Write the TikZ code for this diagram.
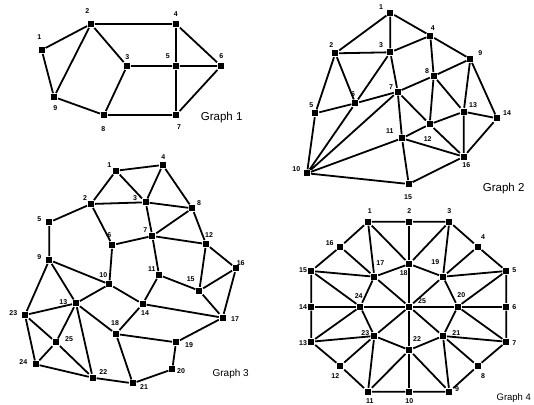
\documentclass[tikz,border=0pt]{standalone}
\usepackage{fontspec}
\setmainfont{Liberation Sans}
\begin{document}
\begin{tikzpicture}[x=1pt,y=-1pt,line width=1.8pt,
    vtx/.style={fill,rectangle,inner sep=0pt,minimum size=6pt},
    lbl/.style={font=\fontsize{7}{8}\selectfont\bfseries,inner sep=0pt},
    ttl/.style={anchor=west,inner sep=0pt}]
    \useasboundingbox (0,0) rectangle (534,404);
    \node[vtx] (a1) at (41.7,50) {};    \path (39.3,36.7) node[lbl] (a1l) {1};
    \node[vtx] (a2) at (91,24) {};      \path (87.3,11) node[lbl] (a2l) {2};
    \node[vtx] (a3) at (127,66) {};     \path (127.3,56.7) node[lbl] (a3l) {3};
    \node[vtx] (a4) at (176,24) {};     \path (175.7,14) node[lbl] (a4l) {4};
    \node[vtx] (a5) at (176,66) {};     \path (167.7,55.7) node[lbl] (a5l) {5};
    \node[vtx] (a6) at (221,66) {};     \path (221.3,55.7) node[lbl] (a6l) {6};
    \node[vtx] (a7) at (176,115) {};    \path (179,127.3) node[lbl] (a7l) {7};
    \node[vtx] (a8) at (104,115) {};    \path (103.3,129.3) node[lbl] (a8l) {8};
    \node[vtx] (a9) at (54,97) {};      \path (55.3,108.3) node[lbl] (a9l) {9};
    \draw (a9) -- (a1) -- (a2) -- (a4) -- (a6) -- (a7) -- (a8) -- (a9) -- (a2);
    \draw (a2) -- (a3) -- (a5) -- (a6);
    \draw (a4) -- (a5) -- (a7);
    \draw (a3) -- (a8);
    \path (200,117.3) node[ttl,font=\fontsize{11.5}{12}\selectfont] (g1) {Graph 1};

    \node[vtx] (b1) at (390.3,12.7) {};   \path (381,7.3) node[lbl] (b1l) {1};
    \node[vtx] (b2) at (335.3,53.3) {};   \path (331.3,45) node[lbl] (b2l) {2};
    \node[vtx] (b3) at (390.3,52.3) {};   \path (381,45) node[lbl] (b3l) {3};
    \node[vtx] (b4) at (430.3,35.7) {};   \path (432.7,27.7) node[lbl] (b4l) {4};
    \node[vtx] (b5) at (315.3,113.3) {};  \path (311.3,105) node[lbl] (b5l) {5};
    \node[vtx] (b6) at (355.3,103.3) {};  \path (353,94) node[lbl] (b6l) {6};
    \node[vtx] (b7) at (397.7,91.7) {};   \path (391,87.3) node[lbl] (b7l) {7};
    \node[vtx] (b8) at (433.7,76) {};     \path (427,71) node[lbl] (b8l) {8};
    \node[vtx] (b9) at (470.3,59) {};     \path (480.3,52.7) node[lbl] (b9l) {9};
    \node[vtx] (b10) at (307,173.3) {};   \path (296.3,169.3) node[lbl] (b10l) {10};
    \node[vtx] (b11) at (402,138.3) {};   \path (389.7,131) node[lbl] (b11l) {11};
    \node[vtx] (b12) at (429.7,124.3) {}; \path (427.7,139.3) node[lbl] (b12l) {12};
    \node[vtx] (b13) at (463.7,111.7) {}; \path (473,105) node[lbl] (b13l) {13};
    \node[vtx] (b14) at (497,118.3) {};   \path (507,113.3) node[lbl] (b14l) {14};
    \node[vtx] (b15) at (408.7,184) {};   \path (408,197.3) node[lbl] (b15l) {15};
    \node[vtx] (b16) at (463.7,156.7) {}; \path (466.3,164.7) node[lbl] (b16l) {16};
    \draw (b1) -- (b2) -- (b5) -- (b10) -- (b15) -- (b16) -- (b14) -- (b9) -- (b4) -- (b1) -- (b3) -- (b2) -- (b6) -- (b3) -- (b4);
    \draw (b5) -- (b6) -- (b7) -- (b8) -- (b9) -- (b13) -- (b14);
    \draw (b3) -- (b7) -- (b11) -- (b15);
    \draw (b4) -- (b8) -- (b12) -- (b16) -- (b13) -- (b12) -- (b11) -- (b16);
    \draw (b8) -- (b13);
    \draw (b7) -- (b12);
    \draw (b6) -- (b10) -- (b7);
    \draw (b10) -- (b11);
    \path (482,188.3) node[ttl,font=\fontsize{11.5}{12}\selectfont] (g2) {Graph 2};

    \node[vtx] (c1) at (116,170.7) {};    \path (109.3,165) node[lbl] (c1l) {1};
    \node[vtx] (c2) at (91,204) {};       \path (85,197.7) node[lbl] (c2l) {2};
    \node[vtx] (c3) at (145.7,202.3) {};  \path (135,197.7) node[lbl] (c3l) {3};
    \node[vtx] (c4) at (162.7,165) {};    \path (163.3,156.7) node[lbl] (c4l) {4};
    \node[vtx] (c5) at (49.3,222.3) {};   \path (39.3,219.3) node[lbl] (c5l) {5};
    \node[vtx] (c6) at (112.3,245) {};    \path (109.3,235) node[lbl] (c6l) {6};
    \node[vtx] (c7) at (152.3,236) {};    \path (145.3,230) node[lbl] (c7l) {7};
    \node[vtx] (c8) at (192.3,208.3) {};  \path (199,202.7) node[lbl] (c8l) {8};
    \node[vtx] (c9) at (49.3,260) {};     \path (39.3,257.3) node[lbl] (c9l) {9};
    \node[vtx] (c10) at (109.3,284.3) {}; \path (103.3,275) node[lbl] (c10l) {10};
    \node[vtx] (c11) at (159,275) {};     \path (151.7,269) node[lbl] (c11l) {11};
    \node[vtx] (c12) at (206,244) {};     \path (209,235) node[lbl] (c12l) {12};
    \node[vtx] (c13) at (76,303.3) {};    \path (63.3,301.7) node[lbl] (c13l) {13};
    \node[vtx] (c14) at (142.7,304) {};   \path (145,312.7) node[lbl] (c14l) {14};
    \node[vtx] (c15) at (199.3,290.7) {}; \path (190.7,279.3) node[lbl] (c15l) {15};
    \node[vtx] (c16) at (236,268.3) {};   \path (240.7,263.3) node[lbl] (c16l) {16};
    \node[vtx] (c17) at (222.7,317.7) {}; \path (235,319.3) node[lbl] (c17l) {17};
    \node[vtx] (c18) at (116,334) {};     \path (115,323.3) node[lbl] (c18l) {18};
    \node[vtx] (c19) at (176,342.3) {};   \path (189,345.3) node[lbl] (c19l) {19};
    \node[vtx] (c20) at (172.3,369.3) {}; \path (181,371) node[lbl] (c20l) {20};
    \node[vtx] (c21) at (132.7,383.3) {}; \path (144,387.3) node[lbl] (c21l) {21};
    \node[vtx] (c22) at (92.7,377.7) {};  \path (103.3,371.7) node[lbl] (c22l) {22};
    \node[vtx] (c23) at (25,315) {};      \path (13.3,312.7) node[lbl] (c23l) {23};
    \node[vtx] (c24) at (35.7,364.3) {};  \path (23.3,361.7) node[lbl] (c24l) {24};
    \node[vtx] (c25) at (56,342.3) {};    \path (69,339.3) node[lbl] (c25l) {25};
    \draw (c4) -- (c1) -- (c2) -- (c5) -- (c9) -- (c23) -- (c24) -- (c22) -- (c21) -- (c20) -- (c19) -- (c17) -- (c16) -- (c12) -- (c8) -- (c4) -- (c3) -- (c1);
    \draw (c2) -- (c3) -- (c8) -- (c7) -- (c3);
    \draw (c2) -- (c6) -- (c7) -- (c12) -- (c15) -- (c16);
    \draw (c6) -- (c10) -- (c14) -- (c17) -- (c15) -- (c11) -- (c7);
    \draw (c11) -- (c14) -- (c18) -- (c13) -- (c10) -- (c9) -- (c13) -- (c23) -- (c25) -- (c13) -- (c22) -- (c25) -- (c24);
    \draw (c18) -- (c19);
    \draw (c18) -- (c21);
    \path (211.7,374.3) node[ttl,font=\fontsize{10}{11}\selectfont] (g3) {Graph 3};

    \node[vtx] (d1) at (368,221.7) {};    \path (369.7,211) node[lbl] (d1l) {1};
    \node[vtx] (d2) at (409.3,221.7) {};  \path (409.3,211) node[lbl] (d2l) {2};
    \node[vtx] (d3) at (449.3,221.7) {};  \path (449.3,211) node[lbl] (d3l) {3};
    \node[vtx] (d4) at (477.7,246.7) {};  \path (483,236.7) node[lbl] (d4l) {4};
    \node[vtx] (d5) at (506.3,271) {};    \path (514.3,270) node[lbl] (d5l) {5};
    \node[vtx] (d6) at (506.3,306.7) {};  \path (514.3,307.3) node[lbl] (d6l) {6};
    \node[vtx] (d7) at (506.3,341.7) {};  \path (514.3,343.3) node[lbl] (d7l) {7};
    \node[vtx] (d8) at (477.7,366) {};    \path (483,376) node[lbl] (d8l) {8};
    \node[vtx] (d9) at (449.3,391.7) {};  \path (457,389.3) node[lbl] (d9l) {9};
    \node[vtx] (d10) at (409.3,391.7) {}; \path (409.3,401) node[lbl] (d10l) {10};
    \node[vtx] (d11) at (368,391.7) {};   \path (369.7,401) node[lbl] (d11l) {11};
    \node[vtx] (d12) at (340.3,366) {};   \path (335.3,376) node[lbl] (d12l) {12};
    \node[vtx] (d13) at (311.3,341.7) {}; \path (303,342.7) node[lbl] (d13l) {13};
    \node[vtx] (d14) at (311.3,306.7) {}; \path (303,307.3) node[lbl] (d14l) {14};
    \node[vtx] (d15) at (311.3,271) {};   \path (303,270) node[lbl] (d15l) {15};
    \node[vtx] (d16) at (340.3,246.7) {}; \path (329.7,243.3) node[lbl] (d16l) {16};
    \node[vtx] (d17) at (374.3,276.7) {}; \path (380.3,262.7) node[lbl] (d17l) {17};
    \node[vtx] (d18) at (409.3,264) {};   \path (403.7,273.3) node[lbl] (d18l) {18};
    \node[vtx] (d19) at (443,276.7) {};   \path (435.3,262.3) node[lbl] (d19l) {19};
    \node[vtx] (d20) at (457.7,306.7) {}; \path (461.3,295) node[lbl] (d20l) {20};
    \node[vtx] (d21) at (443,336) {};     \path (456.3,332.7) node[lbl] (d21l) {21};
    \node[vtx] (d22) at (409.3,350) {};   \path (417,339.3) node[lbl] (d22l) {22};
    \node[vtx] (d23) at (374.3,336) {};   \path (365.3,333.3) node[lbl] (d23l) {23};
    \node[vtx] (d24) at (360.3,306.7) {}; \path (358.7,295.7) node[lbl] (d24l) {24};
    \node[vtx] (d25) at (409.3,306.7) {}; \path (422,301) node[lbl] (d25l) {25};
    \draw (d1) -- (d2) -- (d3) -- (d4) -- (d5) -- (d6) -- (d7) -- (d8) -- (d9) -- (d10) -- (d11) -- (d12) -- (d13) -- (d14) -- (d15) -- (d16) -- (d1);
    \draw (d2) -- (d18) -- (d25) -- (d22) -- (d10);
    \draw (d14) -- (d24) -- (d25) -- (d20) -- (d6);
    \draw (d16) -- (d17) -- (d25) -- (d21) -- (d8);
    \draw (d4) -- (d19) -- (d25) -- (d23) -- (d12);
    \draw (d15) -- (d17) -- (d18) -- (d19) -- (d5);
    \draw (d3) -- (d19) -- (d20) -- (d7) -- (d21) -- (d22) -- (d11) -- (d23) -- (d13) -- (d24) -- (d17) -- (d1) -- (d18) -- (d3);
    \draw (d5) -- (d20) -- (d21) -- (d9) -- (d22) -- (d23) -- (d24) -- (d15);
    \path (495.7,398.3) node[ttl,font=\fontsize{9.5}{10}\selectfont] (g4) {Graph 4};
\end{tikzpicture}
\end{document}
